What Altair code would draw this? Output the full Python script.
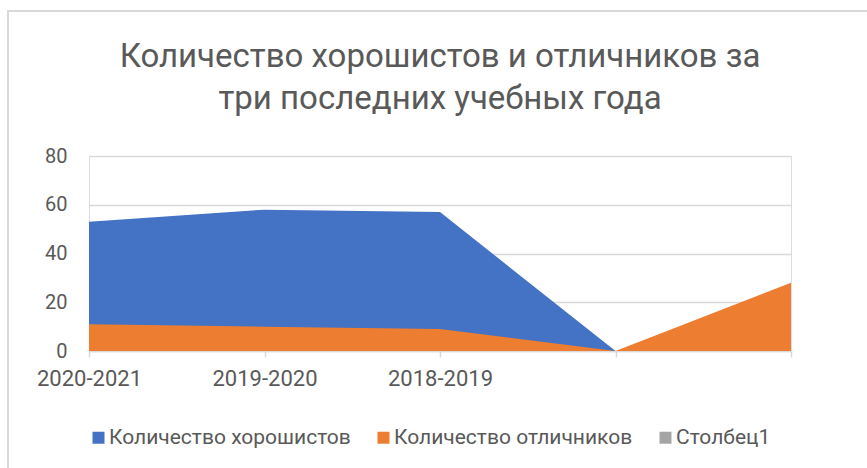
import altair as alt
import pandas as pd

categories = ["2020-2021", "2019-2020", "2018-2019", " ", "  "]
good_students = [53, 58, 57, 0, 0]
excellent_students = [11, 10, 9, 0, 28]
series_names = ["Количество хорошистов", "Количество отличников", "Столбец1"]
series_colors = ["#4472C4", "#ED7D31", "#A5A5A5"]
y_ticks = [0, 20, 40, 60, 80]

FONT = "Roboto"
TXT = "#595959"
GRID = "#d9d9d9"

df_good = pd.DataFrame({"cat": categories, "value": good_students, "series": series_names[0]})
df_exc = pd.DataFrame({"cat": categories, "value": excellent_students, "series": series_names[1]})

x_enc = alt.X("cat:N", sort=categories,
              scale=alt.Scale(type="point", padding=0, domain=categories),
              axis=alt.Axis(title=None, labelAngle=0, domainColor=GRID, domainWidth=1.5,
                            tickColor=GRID, tickSize=6, tickWidth=1.5, labelPadding=11,
                            labelFontSize=22, labelColor=TXT, labelFont=FONT, grid=False))
y_enc = alt.Y("value:Q", scale=alt.Scale(domain=[0, 80]),
              axis=alt.Axis(title=None, values=y_ticks, ticks=False, domain=False,
                            labelPadding=22, labelFontSize=20, labelColor=TXT, labelFont=FONT,
                            gridColor=GRID, gridWidth=1.5))
color_enc = alt.Color("series:N",
                      scale=alt.Scale(domain=series_names, range=series_colors),
                      legend=alt.Legend(title=None, orient="none", direction="horizontal",
                                        legendX=-1, legendY=271, symbolType="square",
                                        symbolSize=144, symbolStrokeWidth=0, symbolOpacity=1,
                                        labelFontSize=21, labelColor=TXT, labelFont=FONT,
                                        columnPadding=22, labelOffset=0, labelLimit=400))

good = alt.Chart(df_good).mark_area(opacity=1).encode(x=x_enc, y=y_enc, color=color_enc)
exc = alt.Chart(df_exc).mark_area(opacity=1).encode(x=x_enc, y=y_enc, color=color_enc)

border_left = alt.Chart(df_good.head(1)).mark_rule(color=GRID, strokeWidth=2).encode(
    x=alt.value(-81), y=alt.value(-145), y2=alt.value(320))
border_top = alt.Chart(df_good.head(1)).mark_rule(color=GRID, strokeWidth=2).encode(
    x=alt.value(-82), x2=alt.value(790), y=alt.value(-145))

chart = alt.layer(good, exc, border_left, border_top).properties(
    width=702, height=195,
    title=alt.TitleParams(["Количество хорошистов и отличников за", "три последних учебных года"],
                          fontSize=33, font=FONT, color=TXT, fontWeight="normal",
                          anchor="middle", lineHeight=42, offset=0, dy=106),
    autosize=alt.AutoSizeParams(type="none"),
    padding={"left": 89, "top": 156, "right": 76, "bottom": 117},
).configure_view(stroke=None).configure(background="white")

chart.save("out.html", embed_options={"renderer": "svg", "actions": False})
